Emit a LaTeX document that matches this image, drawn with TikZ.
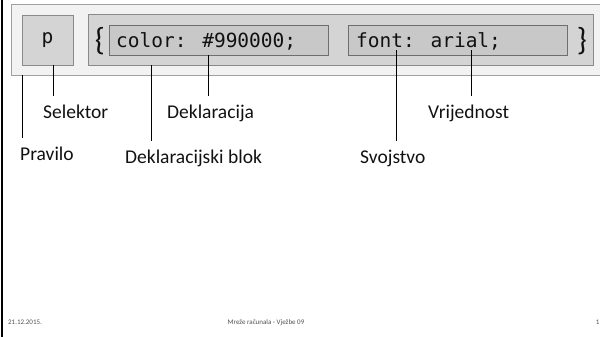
\documentclass[tikz,border=0pt]{standalone}
\usepackage{fontspec}
\setmainfont{Carlito}
\newfontfamily\codefont{DejaVu Sans Mono}
\usetikzlibrary{positioning}

\definecolor{ruleFill}{HTML}{F2F2F2}
\definecolor{ruleLine}{HTML}{A0A0A0}
\definecolor{blockFill}{HTML}{D4D4D4}
\definecolor{blockLine}{HTML}{8A8A8A}
\definecolor{declFill}{HTML}{C8C8C8}
\definecolor{declLine}{HTML}{6E6E6E}
\definecolor{textDark}{HTML}{111111}
\definecolor{footText}{HTML}{505050}

\tikzset{
    box/.style={draw=blockLine, fill=blockFill, line width=0.8pt, inner sep=0pt},
    declbox/.style={draw=declLine, fill=declFill, line width=0.8pt, inner sep=0pt,
        minimum width=219pt, minimum height=30pt},
    code/.style={font=\codefont\fontsize{19.5}{24}\selectfont, text=textDark, inner sep=0pt},
    brace/.style={font=\fontsize{32}{36}\selectfont, text=textDark, inner sep=0pt},
    lbl/.style={font=\fontsize{19.5}{24}\selectfont, text=textDark, inner sep=0pt,
        text height=14pt, text depth=4pt, anchor=base west},
    conn/.style={draw=black, line width=0.8pt, shorten >=8pt},
    foot/.style={font=\fontsize{7}{8}\selectfont, text=footText, inner sep=0pt, anchor=base},
}

\begin{document}
\begin{tikzpicture}[x=1pt, y=-1pt]
    \useasboundingbox (0,0) rectangle (600,337);
    \draw[line width=2pt] (2,0) -- (2,337);

    % the rule
    \node[draw=ruleLine, fill=ruleFill, line width=0.8pt, inner sep=0pt,
        minimum width=592pt, minimum height=71pt] (rule) at (307,39.5) {};
    \node[box, minimum width=51pt, minimum height=50pt] (sel) at (47.5,40) {};
    \node[code] (selText) at (sel.center) {p};
    \node[box, minimum width=505pt, minimum height=51pt] (block) at (340.5,39.5) {};
    \node[declbox] (decl1) at (218.5,40) {};
    \node[declbox] (decl2) at (458,40) {};

    \node[brace] (open) at (100,41) {\{};
    \node[brace] (close) at (582,41) {\}};
    \node[code, anchor=base west] (declText1) at (116,48) {color: \#990000;};
    \node[code, anchor=base west] (declText2) at (356,48) {font: arial;};

    % labels
    \node[lbl] (selektor)    at (43,118)  {Selektor};
    \node[lbl] (deklaracija) at (167,118) {Deklaracija};
    \node[lbl] (vrijednost)  at (428,118) {Vrijednost};
    \node[lbl] (pravilo)     at (20,160)  {Pravilo};
    \node[lbl] (blok)        at (125,163) {Deklaracijski blok};
    \node[lbl] (svojstvo)    at (360,163) {Svojstvo};

    \draw[conn] (rule.south -| 22,0)  -- (pravilo.north -| 22,0);
    \draw[conn] (sel.south -| 53,0)   -- (selektor.north -| 53,0);
    \draw[conn] (block.south -| 151,0) -- (blok.north -| 151,0);
    \draw[conn] (decl1.south -| 208,0) -- (deklaracija.north -| 208,0);
    \draw[conn] ([yshift=5pt]decl2.south -| 396,0) -- (svojstvo.north -| 396,0);
    \draw[conn] ([yshift=5pt]decl2.south -| 471,0) -- (vrijednost.north -| 471,0);

    % footer
    \node[foot, anchor=base west] (date) at (8,324) {21.12.2015.};
    \node[foot] (title) at (266,324) {Mreže računala - Vježbe 09};
    \node[foot, anchor=base east] (page) at (599.5,324) {1};
\end{tikzpicture}
\end{document}
